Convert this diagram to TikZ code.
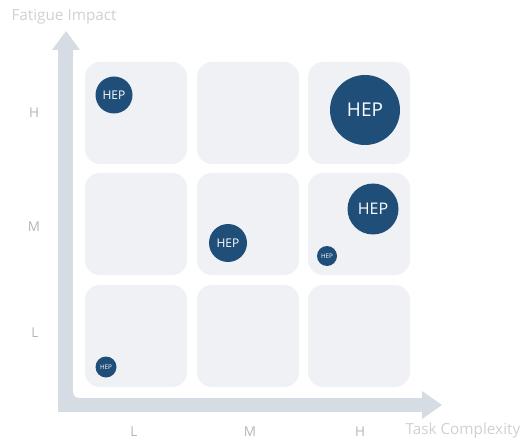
\documentclass[tikz,border=0pt]{standalone}
\usepackage{fontspec}
\setmainfont{Open Sans}
\definecolor{axiscol}{HTML}{D6DCE4}
\definecolor{cellcol}{HTML}{F0F1F5}
\definecolor{hepcol}{HTML}{1F4E79}
\definecolor{titlecol}{HTML}{CDD1D6}
\definecolor{tickcol}{HTML}{B5B5B5}
\tikzset{
  cell/.style={fill=cellcol, rounded corners=15pt},
  hep/.style={circle, fill=hepcol, text=white, inner sep=0pt},
  tick/.style={text=tickcol, font=\fontsize{13.5}{16}\selectfont},
  axtitle/.style={text=titlecol, font=\fontsize{15.3}{18}\selectfont, anchor=west},
}
\begin{document}
\begin{tikzpicture}[x=1pt,y=-1pt]
\useasboundingbox (0,0) rectangle (521,446);
% axes
\fill[axiscol] (58,50) rectangle (73,412);
\fill[axiscol] (58,398) rectangle (422,412);
\fill[axiscol] (73,392) .. controls (73,395.3) and (75.7,398) .. (79,398) -- (73,398) -- cycle;
\fill[axiscol] (52,50) -- (66,31) -- (80,50) -- cycle;
\fill[axiscol] (422,391) -- (442,405) -- (422,419) -- cycle;
% cells
\foreach \cx/\cy [count=\i] in {85/62,197/62,308/62,85/173,197/173,308/173,85/285,197/285,308/285}{
  \fill[cell] (\cx,\cy) rectangle ++(102,102);
}
% circles
\node[hep, minimum size=37pt, font=\fontsize{12}{13}\selectfont] (h1) at (114,95) {HEP};
\node[hep, minimum size=70pt, font=\fontsize{19}{22}\selectfont] (h2) at (365,110) {HEP};
\node[hep, minimum size=51pt, font=\fontsize{16}{18}\selectfont] (h3) at (373,209) {HEP};
\node[hep, minimum size=20pt, font=\fontsize{6.3}{7}\selectfont] (h4) at (327,256) {HEP};
\node[hep, minimum size=38pt, font=\fontsize{12}{13}\selectfont] (h5) at (228,243) {HEP};
\node[hep, minimum size=21pt, font=\fontsize{6.3}{7}\selectfont] (h6) at (106,367) {HEP};
% labels
\node[axtitle] (ytitle) at (8,17) {Fatigue Impact};
\node[axtitle] (xtitle) at (402,431) {Task Complexity};
\node[tick] (yh) at (34,113) {H};
\node[tick] (ym) at (34,227) {M};
\node[tick] (yl) at (35,333) {L};
\node[tick] (xl) at (134,432) {L};
\node[tick] (xm) at (250,432) {M};
\node[tick] (xh) at (360,432) {H};
\end{tikzpicture}
\end{document}
